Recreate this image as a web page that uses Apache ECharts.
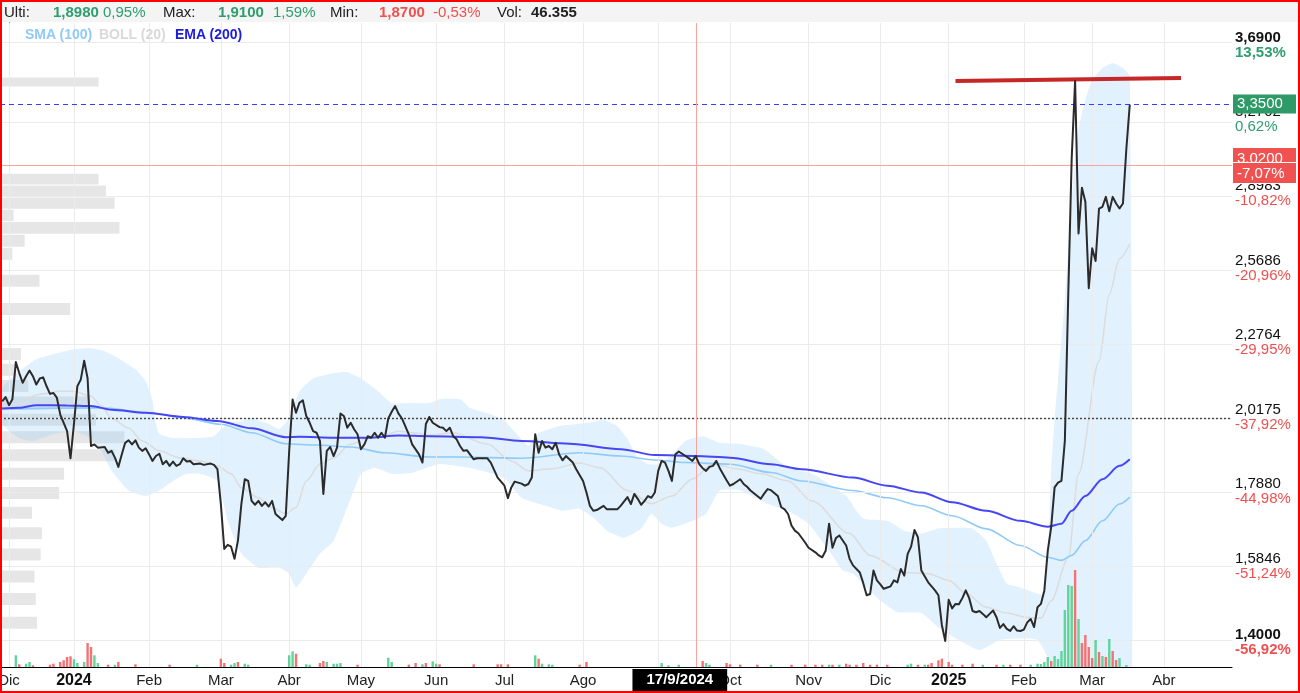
<!DOCTYPE html>
<html>
<head>
<meta charset="utf-8">
<script src="https://cdn.jsdelivr.net/npm/echarts@6.0.0/dist/echarts.min.js"></script>
<style>
html, body { margin: 0; padding: 0; background: #fff; }
#wrap { position: relative; width: 1300px; height: 693px; overflow: hidden; font-family: 'Liberation Sans', Arial, sans-serif; }
#chart { position: absolute; left: 0; top: 0; width: 1300px; height: 693px; }
#head { position: absolute; left: 0; top: 0; width: 1300px; height: 22px; background: #f4f4f4; font-size: 15px; line-height: 24px; color: #222; white-space: nowrap; }
#head span, #legend span { position: absolute; top: 0; }
#legend { position: absolute; left: 0; top: 25px; width: 400px; height: 18px; font-size: 14px; font-weight: bold; line-height: 18px; }
.g { color: #2e9e6e; } .r { color: #f05050; } .b { font-weight: bold; }
#frame { position: absolute; left: 0; top: 0; width: 1300px; height: 693px; box-sizing: border-box; border: 2px solid #f00; pointer-events: none; }
</style>
</head>
<body>
<div id="wrap">
  <div id="chart"></div>
  <div id="head">
    <span style="left:4px">Ulti:</span>
    <span class="g b" style="left:53px">1,8980</span>
    <span class="g" style="left:103px">0,95%</span>
    <span style="left:163px">Max:</span>
    <span class="g b" style="left:218px">1,9100</span>
    <span class="g" style="left:273px">1,59%</span>
    <span style="left:330px">Min:</span>
    <span class="r b" style="left:379px">1,8700</span>
    <span class="r" style="left:433px">-0,53%</span>
    <span style="left:497px">Vol:</span>
    <span class="b" style="left:531px">46.355</span>
  </div>
  <div id="legend">
    <span style="left:25px;color:#90caf9">SMA (100)</span>
    <span style="left:99px;color:#d9d9d9">BOLL (20)</span>
    <span style="left:175px;color:#1c1ce0">EMA (200)</span>
  </div>
  <div id="frame"></div>
</div>
<script>
// eje x: sesiones desde el 1/12/2023 (indice 0)
const monthTicks = [0, 19, 41, 62, 82, 103, 125, 145, 168, 190, 211, 234, 255, 275, 297, 317, 338];
const monthLabels = ['Dic', '2024', 'Feb', 'Mar', 'Abr', 'May', 'Jun', 'Jul', 'Ago', 'Sep', 'Oct', 'Nov', 'Dic', '2025', 'Feb', 'Mar', 'Abr'];

// eje y (logaritmico)
const priceTicks = [1.4, 1.5846, 1.788, 2.0175, 2.2764, 2.5686, 2.8983, 3.2702, 3.69];
const priceLabels = ['1,4000', '1,5846', '1,7880', '2,0175', '2,2764', '2,5686', '2,8983', '3,2702', '3,6900'];
const pctLabels = ['-56,92%', '-51,24%', '-44,98%', '-37,92%', '-29,95%', '-20,96%', '-10,82%', '0,62%', '13,53%'];

const closeData = [
  [-2,2.070],[-1,2.084],[0,2.057],[1,2.077],[2,2.206],[3,2.167],[4,2.133],[5,2.156],[6,2.176],[7,2.156],
  [8,2.127],[9,2.148],[10,2.152],[11,2.121],[12,2.095],[13,2.098],[14,2.082],[15,2.026],[17,1.972],[18,1.887],
  [19,1.994],[20,2.121],[21,2.144],[22,2.211],[23,2.149],[24,1.925],[25,1.930],[26,1.920],[28,1.922],[29,1.904],
  [30,1.910],[31,1.889],[32,1.861],[33,1.899],[34,1.935],[35,1.943],[36,1.930],[37,1.943],[38,1.920],[39,1.910],
  [40,1.918],[41,1.899],[42,1.879],[43,1.894],[44,1.901],[45,1.869],[46,1.879],[47,1.864],[48,1.877],[49,1.864],
  [50,1.869],[51,1.887],[52,1.877],[53,1.879],[54,1.869],[56,1.871],[57,1.867],[59,1.871],[60,1.867],[61,1.854],
  [62,1.752],[63,1.629],[64,1.640],[65,1.635],[66,1.603],[67,1.651],[68,1.752],[69,1.824],[70,1.819],[71,1.761],
  [72,1.750],[73,1.761],[74,1.747],[75,1.757],[76,1.745],[77,1.761],[78,1.724],[80,1.707],[81,1.719],[82,1.910],
  [83,2.076],[84,2.032],[85,2.065],[86,2.073],[87,2.021],[88,1.999],[89,1.972],[90,1.967],[91,1.941],[92,1.781],
  [93,1.910],[94,1.922],[95,1.894],[96,1.920],[97,2.029],[98,2.021],[99,1.983],[100,1.999],[101,1.978],[102,1.962],
  [103,1.915],[104,1.930],[105,1.956],[106,1.951],[107,1.967],[108,1.951],[109,1.967],[110,1.951],[111,2.013],[112,2.035],
  [113,2.054],[114,2.029],[115,2.013],[117,1.962],[118,1.930],[120,1.899],[121,1.874],[122,1.995],[123,2.018],[124,1.999],
  [126,1.985],[127,1.983],[128,1.972],[129,1.983],[130,1.956],[131,1.946],[132,1.925],[133,1.910],[134,1.912],[136,1.884],
  [137,1.887],[139,1.887],[140,1.887],[141,1.874],[142,1.851],[143,1.829],[145,1.805],[146,1.769],[147,1.800],[148,1.817],
  [150,1.811],[151,1.805],[152,1.810],[153,1.829],[154,1.962],[155,1.904],[156,1.941],[157,1.920],[158,1.925],[159,1.915],
  [160,1.935],[161,1.899],[162,1.881],[163,1.894],[164,1.884],[165,1.874],[166,1.854],[168,1.819],[169,1.785],[170,1.747],
  [171,1.733],[172,1.735],[174,1.747],[175,1.737],[176,1.737],[178,1.737],[179,1.747],[181,1.772],[182,1.752],[183,1.781],
  [184,1.767],[185,1.750],[186,1.761],[187,1.775],[188,1.770],[189,1.785],[190,1.849],[191,1.879],[192,1.874],[193,1.849],
  [194,1.819],[195,1.899],[196,1.908],[197,1.901],[198,1.894],[199,1.887],[200,1.879],[201,1.894],[202,1.869],[203,1.857],
  [204,1.849],[205,1.861],[206,1.864],[207,1.879],[208,1.857],[209,1.839],[210,1.821],[211,1.805],[212,1.810],[214,1.824],
  [215,1.810],[216,1.802],[217,1.791],[219,1.775],[220,1.767],[221,1.782],[222,1.795],[223,1.792],[225,1.775],[226,1.743],
  [227,1.737],[228,1.724],[229,1.692],[230,1.678],[231,1.671],[233,1.646],[234,1.632],[236,1.620],[237,1.612],[238,1.607],
  [239,1.624],[240,1.697],[241,1.632],[242,1.658],[243,1.665],[245,1.638],[246,1.603],[247,1.586],[249,1.568],[250,1.541],
  [251,1.511],[252,1.514],[253,1.573],[254,1.548],[255,1.538],[256,1.527],[258,1.533],[259,1.548],[260,1.543],[261,1.577],
  [262,1.560],[263,1.616],[264,1.635],[265,1.680],[266,1.660],[267,1.573],[269,1.543],[271,1.523],[272,1.511],[273,1.440],
  [274,1.403],[275,1.500],[276,1.479],[277,1.490],[278,1.489],[279,1.504],[280,1.523],[281,1.504],[282,1.473],[283,1.470],
  [284,1.473],[285,1.466],[286,1.458],[287,1.466],[288,1.474],[289,1.458],[290,1.433],[291,1.442],[292,1.431],[293,1.426],
  [294,1.437],[295,1.427],[296,1.426],[297,1.429],[298,1.446],[299,1.454],[300,1.435],[301,1.482],[302,1.490],[303,1.523],
  [304,1.624],[305,1.688],[306,1.800],[307,1.814],[308,1.819],[309,1.941],[310,2.462],[311,3.069],[312,3.480],[313,2.718],
  [314,2.927],[315,2.861],[316,2.487],[317,2.653],[318,2.599],[319,2.830],[320,2.838],[321,2.884],[322,2.818],[323,2.884],
  [324,2.853],[325,2.830],[326,2.853],[327,3.118],[328,3.350]
];

const emaData = [
  [-2,2.046],[3,2.048],[8,2.057],[17,2.056],[24,2.054],[30,2.042],[40,2.032],[51,2.018],[61,2.005],[71,1.981],
  [81,1.953],[85,1.954],[95,1.951],[105,1.951],[114,1.958],[123,1.956],[138,1.953],[150,1.941],[164,1.932],[179,1.915],
  [189,1.897],[201,1.894],[211,1.889],[223,1.869],[232,1.854],[247,1.829],[257,1.805],[267,1.785],[276,1.757],[286,1.733],
  [296,1.705],[304,1.689],[308,1.697],[311,1.733],[315,1.775],[320,1.824],[325,1.864],[328,1.884]
];

const smaData = [
  [-2,2.044],[27,2.048],[41,2.032],[52,2.013],[62,1.994],[71,1.967],[81,1.932],[90,1.928],[100,1.922],[110,1.904],
  [123,1.891],[132,1.891],[150,1.887],[167,1.904],[179,1.894],[189,1.882],[198,1.874],[211,1.869],[223,1.844],[232,1.819],
  [247,1.791],[257,1.770],[267,1.747],[276,1.719],[286,1.683],[296,1.638],[304,1.607],[308,1.599],[311,1.612],[315,1.651],
  [320,1.705],[325,1.752],[328,1.772]
];

const bollMid = [
  [3,2.060],[9,2.094],[15,2.104],[19,2.104],[24,2.087],[27,2.054],[30,2.014],[35,1.982],[39,1.941],[44,1.910],
  [50,1.888],[56,1.879],[61,1.864],[65,1.840],[68,1.799],[73,1.770],[77,1.742],[81,1.725],[84,1.742],[87,1.819],
  [91,1.870],[95,1.888],[100,1.931],[105,1.950],[109,1.956],[114,1.972],[119,1.966],[123,1.960],[130,1.966],[140,1.931],
  [147,1.879],[152,1.849],[159,1.855],[167,1.873],[173,1.858],[181,1.791],[188,1.753],[194,1.775],[200,1.825],[206,1.870],
  [213,1.855],[220,1.840],[228,1.819],[235,1.761],[246,1.670],[252,1.612],[262,1.568],[269,1.565],[275,1.548],[280,1.516],
  [286,1.482],[292,1.468],[298,1.458],[302,1.456],[305,1.498],[310,1.606],[313,1.840],[319,2.209],[322,2.462],[325,2.609],
  [328,2.673]
];

const bollUpper = [
  [-2,2.114],[3,2.173],[8,2.216],[13,2.234],[19,2.252],[24,2.256],[28,2.245],[32,2.220],[37,2.180],[40,2.138],
  [42,2.071],[43,1.995],[44,1.963],[48,1.950],[54,1.950],[60,1.956],[64,1.998],[68,2.005],[71,2.014],[76,1.995],
  [79,1.979],[82,2.014],[85,2.104],[89,2.148],[95,2.166],[99,2.170],[103,2.148],[108,2.104],[112,2.064],[118,2.064],
  [123,2.064],[126,2.077],[132,2.077],[135,2.047],[141,2.027],[145,2.005],[150,1.947],[152,1.925],[155,1.966],[161,1.988],
  [169,1.998],[174,2.008],[178,1.988],[181,1.947],[184,1.888],[187,1.870],[191,1.870],[198,1.941],[203,1.956],[208,1.935],
  [214,1.931],[221,1.915],[228,1.858],[235,1.840],[245,1.775],[248,1.733],[250,1.711],[257,1.705],[262,1.678],[267,1.670],
  [272,1.684],[276,1.686],[282,1.684],[286,1.651],[289,1.591],[292,1.540],[296,1.530],[300,1.518],[303,1.512],[304,1.600],
  [305,1.852],[306,2.008],[307,2.143],[308,2.286],[309,2.440],[310,2.646],[311,2.869],[312,3.062],[313,3.215],[315,3.375],
  [317,3.486],[320,3.555],[323,3.584],[326,3.555],[328,3.509]
];

const bollLower = [
  [-2,1.995],[3,1.950],[7,1.941],[13,1.963],[19,1.972],[24,1.950],[27,1.910],[30,1.849],[35,1.791],[40,1.775],
  [44,1.791],[48,1.819],[52,1.840],[56,1.840],[61,1.819],[64,1.705],[68,1.617],[73,1.580],[79,1.580],[82,1.565],
  [84,1.530],[87,1.565],[91,1.617],[95,1.651],[99,1.742],[103,1.840],[107,1.858],[112,1.840],[118,1.843],[123,1.861],
  [126,1.870],[135,1.858],[145,1.827],[150,1.770],[157,1.747],[162,1.733],[167,1.739],[171,1.714],[175,1.678],[180,1.659],
  [185,1.684],[188,1.725],[191,1.697],[194,1.686],[200,1.705],[204,1.725],[208,1.791],[214,1.791],[222,1.753],[228,1.733],
  [234,1.697],[240,1.624],[244,1.573],[247,1.565],[255,1.498],[260,1.470],[267,1.468],[272,1.434],[278,1.405],[284,1.382],
  [290,1.405],[296,1.409],[301,1.405],[304,1.367],[306,1.338],[309,1.275],[316,1.176],[328,1.120]
];

// volumen (sesion, volumen)
const volUp = [
  [2,117],[5,33],[6,50],[19,77],[20,40],[22,50],[25,117],[26,40],[31,23],[55,23],[65,23],[66,40],[69,33],[70,23],
  [82,117],[83,157],[87,27],[88,23],[93,50],[95,33],[96,33],[97,40],[111,93],[112,50],[121,27],[124,57],[125,33],
  [154,117],[156,33],[158,27],[159,23],[191,40],[193,17],[196,23],[204,40],[205,23],[223,23],[240,23],[243,23],
  [263,23],[264,33],[268,23],[285,23],[291,23],[299,23],[301,33],[302,30],[303,50],[304,100],[306,110],[307,80],
  [308,160],[309,570],[310,820],[311,810],[313,480],[318,270],[320,110],[322,280],[325,90],[327,20]
];
const volDown = [
  [3,27],[7,17],[12,23],[13,33],[15,50],[16,67],[17,100],[18,107],[23,240],[24,200],[29,23],[32,50],[37,27],[47,23],
  [62,83],[63,40],[67,50],[84,133],[91,40],[92,60],[102,23],[117,23],[119,40],[122,40],[126,27],[136,27],[143,27],
  [144,27],[146,27],[155,83],[167,23],[169,50],[203,60],[210,40],[211,27],[214,23],[219,23],[229,23],[233,23],[236,23],
  [238,23],[241,23],[245,33],[246,23],[248,23],[250,40],[252,23],[254,23],[257,23],[266,23],[269,23],[270,40],[272,67],
  [273,83],[275,50],[276,23],[279,23],[282,33],[289,23],[293,23],[296,23],[305,60],[312,970],[314,240],[315,320],
  [316,200],[317,90],[319,150],[321,100],[323,160],[324,70]
];

// perfil de volumen por precio (tramos desde profileLow)
const profileLow = 1.417;
const profileStep = 0.0564;
const profileVol = [30, 29, 28, 33, 34, 26, 48, 52, 93, 101, 78, 73, 23, 12, 17, 0, 0, 57, 0, 32, 0, 10, 20, 97, 11, 93, 86, 80, 0, 0, 0, 0, 0, 0, 0, 0, 80];

const lastPrice = 3.35;
const refLevel = 2.0175;
const crossPrice = 3.02;
const crossPct = '-7,07%';
const crossDay = 201;
const crossDate = '17/9/2024';
const trendLine = [[277, 3.481], [343, 3.498]];

// layout
const L = Math.log;
const gridTop = 23, gridBottomPx = 667, gridRight = 1232;
const pxPerLn = 616.3, topTickPx = 45;
const yMax = L(3.69) + (topTickPx - gridTop) / pxPerLn;
const yMin = L(3.69) - (gridBottomPx - topTickPx) / pxPerLn;
const pxPerDay = 3.417, day0Px = 9;
const xMin = (0 - day0Px) / pxPerDay;
const xMax = (gridRight - day0Px) / pxPerDay;

const green = '#2e9e6e', red = '#f05050', cross = '#ffa0a0';
const fmt = (v) => v.toFixed(4).replace('.', ',');
const toLn = (arr) => arr.map(d => [d[0], L(d[1])]);

const chart = echarts.init(document.getElementById('chart'));

const volData = volUp.map(d => ({ value: d, itemStyle: { color: '#5fd49b' } }))
  .concat(volDown.map(d => ({ value: d, itemStyle: { color: '#f47272' } })))
  .sort((a, b) => a.value[0] - b.value[0]);

const gridLines = monthTicks.map(t => ({ xAxis: t })).concat(priceTicks.map(p => ({ yAxis: L(p) })));

chart.setOption({
  animation: false,
  textStyle: { fontFamily: 'Liberation Sans, Arial, sans-serif' },
  grid: [
    { left: 0, right: 1300 - gridRight, top: gridTop, bottom: 693 - gridBottomPx, outerBoundsMode: 'none' },
    { left: 0, right: 1300 - gridRight, top: gridBottomPx - 100, bottom: 693 - gridBottomPx, outerBoundsMode: 'none' }
  ],
  xAxis: [
    {
      type: 'value', gridIndex: 0, min: xMin, max: xMax,
      axisLine: { show: true, onZero: false, lineStyle: { color: '#000', width: 1 } },
      axisTick: { show: false },
      splitLine: { show: false },
      axisLabel: {
        customValues: monthTicks,
        margin: 6,
        color: '#222',
        fontSize: 15,
        formatter: function (v) {
          const i = monthTicks.indexOf(v);
          const s = i >= 0 ? monthLabels[i] : '';
          return /^\d{4}$/.test(s) ? '{y|' + s + '}' : s;
        },
        rich: { y: { fontWeight: 'bold', fontSize: 16, color: '#111' } }
      }
    },
    { type: 'value', gridIndex: 0, min: 0, max: 1000, show: false },
    { type: 'value', gridIndex: 1, min: xMin, max: xMax, show: false }
  ],
  yAxis: [
    {
      type: 'value', gridIndex: 0, position: 'right', min: yMin, max: yMax,
      axisLine: { show: true, lineStyle: { color: '#000', width: 1 } },
      axisTick: { show: false },
      splitLine: { show: false },
      axisLabel: {
        customValues: priceTicks.map(p => L(p)),
        margin: 3,
        formatter: function (v) {
          let i = 0;
          priceTicks.forEach((p, k) => { if (Math.abs(L(p) - v) < Math.abs(L(priceTicks[i]) - v)) i = k; });
          const edge = (i === 0 || i === priceTicks.length - 1);
          const pos = pctLabels[i].charAt(0) !== '-';
          return '{' + (edge ? 'pb' : 'p') + '|' + priceLabels[i] + '}\n{' + (pos ? 'g' : 'r') + (edge ? 'b' : '') + '|' + pctLabels[i] + '}';
        },
        rich: {
          p: { color: '#111', fontSize: 15, lineHeight: 15 },
          pb: { color: '#111', fontSize: 15, lineHeight: 15, fontWeight: 'bold' },
          g: { color: green, fontSize: 15, lineHeight: 15 },
          gb: { color: green, fontSize: 15, lineHeight: 15, fontWeight: 'bold' },
          r: { color: red, fontSize: 15, lineHeight: 15 },
          rb: { color: red, fontSize: 15, lineHeight: 15, fontWeight: 'bold' }
        }
      }
    },
    { type: 'value', gridIndex: 1, min: 0, max: 1000, show: false }
  ],
  series: [
    {
      name: 'grid', type: 'line', xAxisIndex: 0, yAxisIndex: 0, data: [], z: 0, silent: true,
      markLine: {
        silent: true, symbol: 'none', animation: false,
        label: { show: false },
        lineStyle: { color: '#ebebeb', width: 1, type: 'solid' },
        data: gridLines
      }
    },
    {
      name: 'perfil', type: 'custom', xAxisIndex: 1, yAxisIndex: 0, z: 1, silent: true, clip: true,
      data: profileVol.map((v, i) => [i, v]).filter(d => d[1] > 0),
      renderItem: function (params, api) {
        const i = api.value(0), w = api.value(1);
        const lo = profileLow + i * profileStep;
        const hi = lo + profileStep;
        const mid = lo + profileStep / 2;
        const yLo = api.coord([0, L(lo)])[1];
        const yHi = api.coord([0, L(hi)])[1];
        const p0 = api.coord([0, L(mid)]);
        const p1 = api.coord([w, L(mid)]);
        const h = Math.min(12, Math.abs(yLo - yHi) - 1);
        return {
          type: 'rect',
          shape: { x: p0[0], y: p0[1] - h / 2, width: p1[0] - p0[0], height: h },
          style: { fill: 'rgba(190,190,190,0.38)' }
        };
      }
    },
    {
      name: 'BOLL', type: 'custom', xAxisIndex: 0, yAxisIndex: 0, z: 2, silent: true, clip: true,
      data: [[0, 1]],
      renderItem: function (params, api) {
        const pts = bollUpper.map(d => api.coord([d[0], L(d[1])]))
          .concat(bollLower.slice().reverse().map(d => api.coord([d[0], L(d[1])])));
        return { type: 'polygon', shape: { points: pts, smooth: 0.15 }, style: { fill: 'rgba(144,202,249,0.27)' } };
      }
    },
    {
      name: 'BOLL mid', type: 'line', xAxisIndex: 0, yAxisIndex: 0, z: 3, silent: true,
      data: toLn(bollMid), showSymbol: false, smooth: 0.3, smoothMonotone: 'x',
      lineStyle: { color: '#dcdcdc', width: 1.5 }
    },
    {
      name: 'SMA (100)', type: 'line', xAxisIndex: 0, yAxisIndex: 0, z: 4, silent: true,
      data: toLn(smaData), showSymbol: false, smooth: 0.3, smoothMonotone: 'x',
      lineStyle: { color: '#90caf9', width: 1.6 }
    },
    {
      name: 'EMA (200)', type: 'line', xAxisIndex: 0, yAxisIndex: 0, z: 5, silent: true,
      data: toLn(emaData), showSymbol: false, smooth: 0.3, smoothMonotone: 'x',
      lineStyle: { color: '#4646f5', width: 2 }
    },
    {
      name: 'Vol', type: 'bar', xAxisIndex: 2, yAxisIndex: 1, z: 6, silent: true,
      barWidth: 2.4, data: volData
    },
    {
      name: 'Cierre', type: 'line', xAxisIndex: 0, yAxisIndex: 0, z: 7, silent: true,
      data: toLn(closeData), showSymbol: false,
      lineStyle: { color: '#2b2b2b', width: 2, join: 'round' },
      markLine: {
        silent: true, symbol: 'none', animation: false,
        data: [
          {
            yAxis: L(refLevel),
            lineStyle: { color: '#444', width: 1.4, type: [2, 2] },
            label: { show: false }
          },
          {
            yAxis: L(lastPrice),
            lineStyle: { color: '#3b3bff', width: 1.2, type: [5, 4] },
            label: {
              show: true, position: 'end', distance: 1, formatter: fmt(lastPrice),
              backgroundColor: '#2e9a68', color: '#fff', fontSize: 15, lineHeight: 16,
              padding: [2, 4, 1, 4], width: 55, align: 'left'
            }
          },
          {
            yAxis: L(crossPrice),
            lineStyle: { color: cross, width: 1, type: 'solid' },
            label: {
              show: true, position: 'end', distance: 1,
              formatter: '{a|' + fmt(crossPrice) + '}\n{a|' + crossPct + '}',
              rich: {
                a: {
                  backgroundColor: '#f05252', color: '#fff', fontSize: 15, lineHeight: 15, height: 15,
                  padding: [3, 4, 2, 4], width: 55, borderColor: '#fff', borderWidth: 1, align: 'left'
                }
              }
            }
          },
          {
            xAxis: crossDay,
            lineStyle: { color: cross, width: 1, type: 'solid' },
            label: {
              show: true, position: 'start', distance: 2, formatter: crossDate, offset: [-16, 0],
              backgroundColor: '#000', color: '#fff', fontSize: 15, fontWeight: 'bold',
              padding: [3, 14, 3, 14], lineHeight: 16
            }
          },
          [
            { coord: [trendLine[0][0], L(trendLine[0][1])], lineStyle: { color: '#c62828', width: 4, type: 'solid' }, label: { show: false } },
            { coord: [trendLine[1][0], L(trendLine[1][1])] }
          ]
        ]
      }
    }
  ]
});
</script>
</body>
</html>
